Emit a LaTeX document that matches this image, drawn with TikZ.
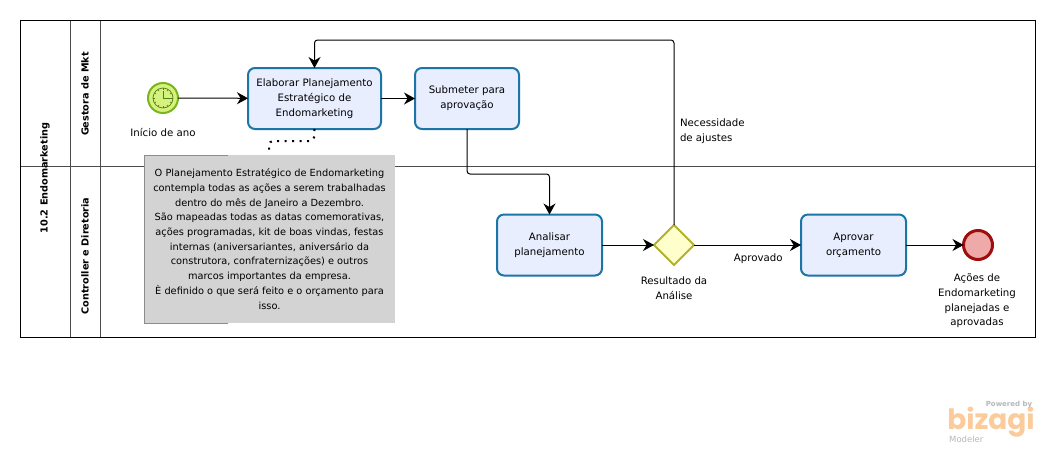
\documentclass[tikz,border=0pt]{standalone}
\usepackage{fontspec}
\setmainfont{DejaVu Sans}
\newfontfamily\logofont{Poppins}
\usetikzlibrary{arrows.meta, shapes.geometric}
\definecolor{taskfill}{HTML}{E9EEFF}
\definecolor{taskline}{HTML}{1B75A6}
\definecolor{startfill}{HTML}{D6F27E}
\definecolor{startline}{HTML}{7AB51D}
\definecolor{endfill}{HTML}{EEA9A9}
\definecolor{endline}{HTML}{A00D0D}
\definecolor{gatefill}{HTML}{FFFFCC}
\definecolor{gateline}{HTML}{B1B12E}
\definecolor{notefill}{HTML}{D3D3D3}
\definecolor{logoorange}{HTML}{FBCB9B}
\definecolor{logogray}{HTML}{B4B8BC}
\tikzset{
	txt/.style = {font=\fontsize{10.2}{14.7}\selectfont, align=center, inner sep=0, outer sep=0},
	task/.style = {txt, draw=taskline, fill=taskfill, line width=2pt, rounded corners=7pt, minimum height=61pt},
	flow/.style = {line width=1pt, arrows = {-Stealth[length=11pt, width=12pt]}, rounded corners=3pt},
	lane/.style = {line width=1pt, draw=black!70},
	lanetitle/.style = {txt, rotate=90, font=\fontsize{9.7}{12}\selectfont\bfseries}
}
\begin{document}
\begin{tikzpicture}[x=1pt, y=-1pt]
	\useasboundingbox (0, 0) rectangle (1055, 453);
	\fill[white] (0, 0) rectangle (1055, 453);

	\draw[lane] (20, 166) -- (1035, 166);
	\draw[lane] (70, 20) -- (70, 337);
	\draw[lane] (100, 20) -- (100, 337);
	\draw[line width=1pt] (20, 20) rectangle (1035, 337);
	\node[lanetitle] (pool) at (45, 178) {10.2 Endomarketing};
	\node[lanetitle] (lanemkt) at (85, 94) {Gestora de Mkt};
	\node[lanetitle] (lanectrl) at (85, 256) {Controller e Diretoria};

	\node[circle, draw=startline, fill=startfill, line width=2pt, minimum size=30pt, inner sep=0, outer sep=0] (start) at (163, 98) {};
	\draw[startline!70!black, line width=.7pt] (start) circle (10);
	\foreach \ang in {0, 30, ..., 330} {
		\draw[startline!70!black, line width=.6pt] (start) ++(\ang:8) -- ++(\ang:2);
	}
	\draw[startline!70!black, line width=.8pt] (start) ++(0, -7) -- (start.center) -- ++(8, 0);
	\node[txt] (startlabel) at (163, 132) {Início de ano};

	\node[task, minimum width=133pt] (elaborar) at (314.5, 98.5) {Elaborar Planejamento\\Estratégico de\\Endomarketing};
	\node[task, minimum width=104pt] (submeter) at (467, 98.5) {Submeter para\\aprovação};
	\node[task, minimum width=105pt] (analisar) at (549.5, 245) {Analisar\\planejamento};
	\node[task, minimum width=105pt] (aprovar) at (853.5, 245) {Aprovar\\orçamento};

	\node[diamond, draw=gateline, fill=gatefill, line width=2pt, minimum size=40pt, inner sep=0, outer sep=0] (gate) at (674, 245) {};
	\node[txt] (gatelabel) at (674, 288.5) {Resultado da\\Análise};

	\node[circle, draw=endline, fill=endfill, line width=3pt, minimum size=29pt, inner sep=0, outer sep=0] (finish) at (978, 245) {};
	\node[txt] (finishlabel) at (977, 301) {Ações de\\Endomarketing\\planejadas e\\aprovadas};

	\node[txt, font=\fontsize{9.8}{14.7}\selectfont, fill=notefill, minimum width=251pt, minimum height=168pt] (note) at (269.5, 239) {O Planejamento Estratégico de Endomarketing\\contempla todas as ações a serem trabalhadas\\dentro do mês de Janeiro a Dezembro.\\São mapeadas todas as datas comemorativas,\\ações programadas, kit de boas vindas, festas\\internas (aniversariantes, aniversário da\\construtora, confraternizações) e outros\\marcos importantes da empresa.\\È definido o que será feito e o orçamento para\\isso.};
	\draw[black!45, line width=1pt] (228, 155) -- (note.north west) -- (note.south west) -- (228, 323);

	\coordinate (dotA) at (314, 141);
	\coordinate (dotB) at (269, 141);
	\coordinate (dotC) at (269, 155);
	\draw[line width=2pt, dash pattern=on 2pt off 5.5pt, rounded corners=4pt] (elaborar.south) -- (dotA) -- (dotB) -- (dotC);

	\coordinate (loopA) at (674, 40);
	\coordinate (loopB) at (314.5, 40);
	\coordinate (downA) at (467, 174);
	\coordinate (downB) at (549.5, 174);
	\draw[flow] (start) -- (elaborar);
	\draw[flow] (elaborar) -- (submeter);
	\draw[flow] (submeter.south) -- (downA) -- (downB) -- (analisar.north);
	\draw[flow] (analisar) -- (gate);
	\draw[flow] (gate.north) -- (loopA) -- (loopB) -- (elaborar.north);
	\draw[flow] (gate) -- (aprovar) node[txt, pos=.6, below=9pt] (aprovado) {Aprovado};
	\draw[flow] (aprovar) -- (finish);
	\node[txt, anchor=north west, align=left] (ajustes) at (680, 119) {Necessidade\\de ajustes};

	\node[anchor=center, inner sep=0, text=logoorange] (logo) at (991, 422) {\logofont\bfseries\fontsize{28}{28}\selectfont bizagi};
	\node[anchor=center, inner sep=0, text=logogray] (powered) at (1009, 405) {\fontsize{7}{7}\selectfont\bfseries Powered by};
	\node[anchor=west, inner sep=0, text=logogray] (modeler) at (949, 439) {\fontsize{8.5}{8.5}\selectfont Modeler};
\end{tikzpicture}
\end{document}
